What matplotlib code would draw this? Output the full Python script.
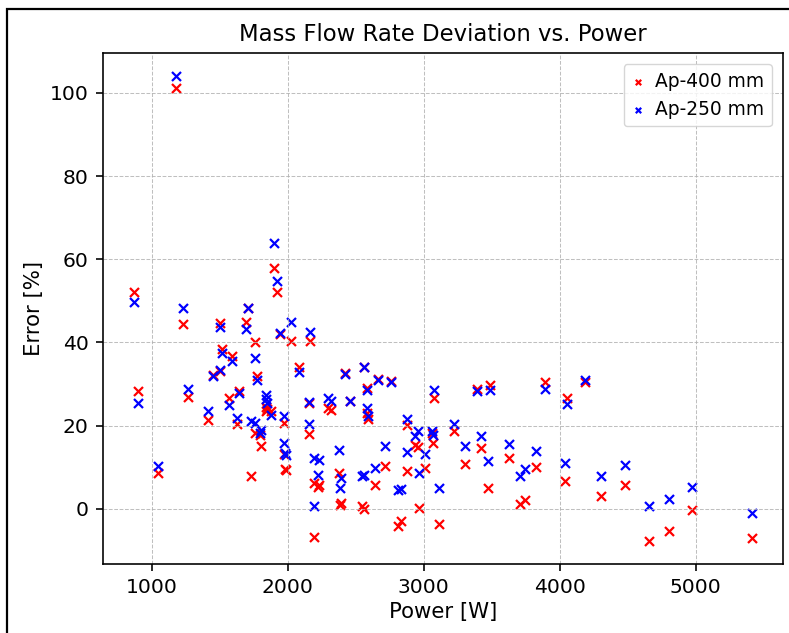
import numpy as np
import matplotlib
matplotlib.use("Agg")
import matplotlib.pyplot as plt
from matplotlib.patches import Rectangle

# power [W] for each test point
power = [869, 899, 1046, 1181, 1228, 1266, 1413, 1450, 1500, 1502,
         1518, 1565, 1592, 1624, 1640, 1692, 1705, 1732, 1760, 1763,
         1775, 1800, 1805, 1837, 1840, 1845, 1880, 1898, 1925, 1947,
         1971, 1976, 1983, 1990, 2028, 2081, 2155, 2160, 2162, 2191,
         2191, 2228, 2220, 2300, 2320, 2375, 2385, 2395, 2424, 2455,
         2545, 2558, 2560, 2583, 2585, 2590, 2644, 2661, 2717, 2759,
         2808, 2833, 2877, 2881, 2940, 2960, 2963, 3011, 3065, 3070,
         3079, 3110, 3220, 3305, 3395, 3420, 3476, 3488, 3628, 3708,
         3745, 3830, 3892, 4039, 4058, 4185, 4308, 4484, 4655, 4802,
         4976, 5416]

err_400 = [52.1, 28.3, 8.7, 101.2, 44.4, 26.8, 21.4, 32.2, 33.2, 44.6,
           38.4, 26.7, 36.8, 20.3, 28.3, 44.8, 48.3, 7.8, 40.0, 18.2,
           32.0, 17.8, 15.1, 24.5, 23.5, 24.0, 23.4, 57.8, 52.0, 42.0,
           20.6, 13.2, 9.5, 9.4, 40.4, 34.0, 25.4, 18.0, 40.4, 6.2,
           -6.8, 5.8, 5.2, 24.2, 23.8, 8.7, 1.0, 1.4, 32.6, 25.9,
           0.7, 34.2, -0.1, 29.0, 23.0, 21.5, 5.6, 31.2, 10.2, 30.6,
           -4.1, -3.0, 20.2, 9.1, 15.4, 14.8, 0.2, 9.8, 18.2, 15.8,
           26.6, -3.7, 18.6, 10.8, 28.8, 14.6, 5.0, 29.8, 12.2, 1.1,
           2.2, 10.0, 30.4, 6.7, 26.7, 30.5, 3.0, 5.6, -7.7, -5.3,
           -0.2, -7.0]

err_250 = [49.6, 25.5, 10.3, 104.0, 48.2, 28.7, 23.6, 31.8, 33.4, 43.6,
           37.4, 25.0, 35.6, 21.8, 27.8, 43.3, 48.2, 21.1, 36.2, 20.6,
           31.0, 18.2, 19.0, 27.4, 26.5, 25.5, 22.6, 64.0, 54.8, 42.2,
           22.4, 15.9, 13.4, 13.0, 44.9, 33.0, 25.6, 20.3, 42.4, 12.2,
           0.6, 11.8, 8.2, 26.6, 25.8, 14.2, 5.1, 7.4, 32.4, 25.9,
           7.8, 34.0, 8.0, 28.6, 24.2, 22.4, 9.9, 31.0, 15.0, 30.4,
           4.6, 4.8, 21.5, 13.6, 17.4, 18.6, 8.7, 13.2, 18.7, 17.8,
           28.6, 5.1, 20.3, 15.1, 28.2, 17.5, 11.5, 28.6, 15.6, 7.9,
           9.5, 13.9, 28.9, 11.0, 25.1, 31.0, 7.9, 10.4, 0.7, 2.4,
           5.2, -1.0]

S = 1.46  # the reference looks like a scaled-up default figure

fig = plt.figure(figsize=(7.89, 6.33), dpi=100)
ax = fig.add_axes([103 / 789, 69 / 633, 680 / 789, 511 / 633])

ax.scatter(power, err_400, marker='x', color='red', s=42,
           linewidths=1.6, label='Ap-400 mm')
ax.scatter(power, err_250, marker='x', color='blue', s=42,
           linewidths=1.6, label='Ap-250 mm')

ax.set_title('Mass Flow Rate Deviation vs. Power', fontsize=16.4, pad=6 * S)
ax.set_xlabel('Power [W]', fontsize=10.5 * S, labelpad=2.5 * S)
ax.set_ylabel('Error [%]', fontsize=10.5 * S, labelpad=3 * S)
ax.tick_params(labelsize=10 * S, width=0.8 * S, length=3.5 * S, pad=3.5 * S)
for sp in ax.spines.values():
    sp.set_linewidth(0.8 * S)
ax.set_xticks([1000, 2000, 3000, 4000, 5000])
ax.set_yticks([0, 20, 40, 60, 80, 100])
ax.grid(True, linestyle='--', linewidth=0.5 * S, color='#b0b0b0', alpha=0.8)
ax.legend(loc='upper right', fontsize=9.2 * S, markerscale=0.6,
          handletextpad=0.5, borderpad=0.4, handlelength=0.8,
          borderaxespad=0.6)

# frame line around the screenshot
fig.patches.append(Rectangle((7 / 789, -0.05), 1.2, 1.05 - 9 / 633,
                             transform=fig.transFigure, fill=False,
                             edgecolor='black', linewidth=1.6))

fig.savefig('out.png', dpi=100)
